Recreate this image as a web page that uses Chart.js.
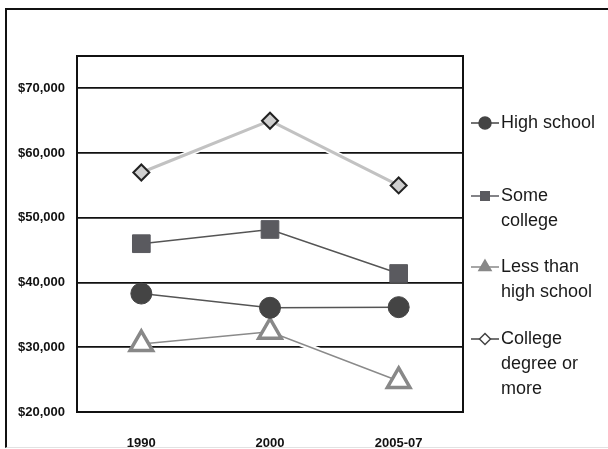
<!DOCTYPE html>
<html lang="en">
<head>
    <meta charset="UTF-8">
    <title>Median earnings by education</title>
    <script src="https://cdn.jsdelivr.net/npm/chart.js"></script>
    <style>
        body { margin: 0; background: #fff; }
        #wrap { position: relative; width: 608px; height: 449px; overflow: hidden; }
        #frame { position: absolute; left: 5px; top: 8px; right: -10px; bottom: 1px; border-left: 2px solid #111; border-top: 2px solid #111; border-bottom: 1px solid #e2e2e2; pointer-events: none; }
    </style>
</head>
<body>
    <div id="wrap">
        <canvas id="earnChart" width="608" height="449"></canvas>
        <div id="frame"></div>
    </div>

    <script>
        // data
        const years = ["1990", "2000", "2005-07"];
        const highSchool = [38300, 36100, 36200];
        const someCollege = [46000, 48200, 41400];
        const lessThanHS = [30500, 32400, 24800];
        const collegeDegree = [57000, 65000, 55000];
        const yTicks = [20000, 30000, 40000, 50000, 60000, 70000];

        const legendItems = [
            { lines: ["High school"], color: "#444", style: "circle", fill: "#444", r: 6, y: 123 },
            { lines: ["Some", "college"], color: "#5a5a5f", style: "rect", fill: "#5a5a5f", r: 6, y: 196 },
            { lines: ["Less than", "high school"], color: "#888", style: "triangle", fill: "#888", r: 7, y: 267 },
            { lines: ["College", "degree or", "more"], color: "#444", style: "rectRot", fill: "#fff", r: 5.5, y: 339 }
        ];

        // white halo under each line, so gridlines look cut where lines cross
        const haloPlugin = {
            id: "halo",
            beforeDatasetDraw(chart, args) {
                const pts = chart.getDatasetMeta(args.index).data;
                const ctx = chart.ctx;
                ctx.save();
                ctx.strokeStyle = "#fff";
                ctx.lineWidth = 6;
                ctx.beginPath();
                pts.forEach((p, i) => i ? ctx.lineTo(p.x, p.y) : ctx.moveTo(p.x, p.y));
                ctx.stroke();
                ctx.restore();
            }
        };

        const frameLegendPlugin = {
            id: "frameLegend",
            beforeDatasetsDraw(chart) {
                const a = chart.chartArea;
                const ctx = chart.ctx;
                ctx.save();
                ctx.strokeStyle = "#111";
                ctx.lineWidth = 2;
                ctx.strokeRect(a.left, a.top, a.right - a.left, a.bottom - a.top);
                ctx.restore();
            },
            afterDraw(chart) {
                const ctx = chart.ctx;
                ctx.save();
                legendItems.forEach(item => {
                    ctx.strokeStyle = item.color;
                    ctx.lineWidth = 1.5;
                    ctx.beginPath();
                    ctx.moveTo(471, item.y);
                    ctx.lineTo(499, item.y);
                    ctx.stroke();
                    ctx.fillStyle = item.fill;
                    ctx.strokeStyle = item.color;
                    ctx.lineWidth = 1.5;
                    Chart.helpers.drawPoint(ctx, { pointStyle: item.style, radius: item.r, borderWidth: 1.5 }, 485, item.y);
                    ctx.fillStyle = "#1a1a1a";
                    ctx.font = "18px 'Liberation Sans', Arial, sans-serif";
                    ctx.textBaseline = "middle";
                    item.lines.forEach((t, i) => ctx.fillText(t, 501, item.y + i * 25));
                });
                ctx.restore();
            }
        };

        const tickFont = { family: "'Liberation Sans Narrow', 'Liberation Sans', Arial, sans-serif", size: 13, weight: "bold" };

        const ctx = document.getElementById("earnChart").getContext("2d");
        new Chart(ctx, {
            type: "line",
            data: {
                labels: years,
                datasets: [
                    {
                        label: "College degree or more",
                        data: collegeDegree,
                        borderColor: "#c2c2c2",
                        borderWidth: 3,
                        pointStyle: "rectRot",
                        pointRadius: 8,
                        pointBackgroundColor: "#cfcfcf",
                        pointBorderColor: "#222",
                        pointBorderWidth: 2
                    },
                    {
                        label: "Some college",
                        data: someCollege,
                        borderColor: "#555",
                        borderWidth: 1.5,
                        pointStyle: "rect",
                        pointRadius: 12.5,
                        pointBackgroundColor: "#5a5a5f",
                        pointBorderColor: "#5a5a5f",
                        pointBorderWidth: 1
                    },
                    {
                        label: "High school",
                        data: highSchool,
                        borderColor: "#555",
                        borderWidth: 1.5,
                        pointStyle: "circle",
                        pointRadius: 10.5,
                        pointBackgroundColor: "#444",
                        pointBorderColor: "#444",
                        pointBorderWidth: 1
                    },
                    {
                        label: "Less than high school",
                        data: lessThanHS,
                        borderColor: "#8a8a8a",
                        borderWidth: 1.5,
                        pointStyle: "triangle",
                        pointRadius: 13,
                        pointBackgroundColor: "#fff",
                        pointBorderColor: "#888",
                        pointBorderWidth: 3.5
                    }
                ]
            },
            options: {
                responsive: false,
                animation: false,
                layout: { padding: { left: 0, right: 145, top: 56, bottom: 0 } },
                plugins: { legend: { display: false }, tooltip: { enabled: false } },
                scales: {
                    x: {
                        offset: true,
                        grid: { display: false },
                        border: { display: false },
                        ticks: { color: "#111", padding: 16, font: tickFont },
                        afterFit(axis) { axis.height = 37; }
                    },
                    y: {
                        min: 20000,
                        max: 75000,
                        afterBuildTicks(axis) { axis.ticks = yTicks.map(v => ({ value: v })); },
                        grid: { color: "#111", lineWidth: 1.8, drawTicks: false },
                        border: { display: false },
                        ticks: {
                            color: "#111",
                            padding: 12,
                            font: tickFont,
                            callback: v => "$" + v.toLocaleString("en-US")
                        },
                        afterFit(axis) { axis.width = 77; }
                    }
                }
            },
            plugins: [haloPlugin, frameLegendPlugin]
        });
    </script>
</body>
</html>
